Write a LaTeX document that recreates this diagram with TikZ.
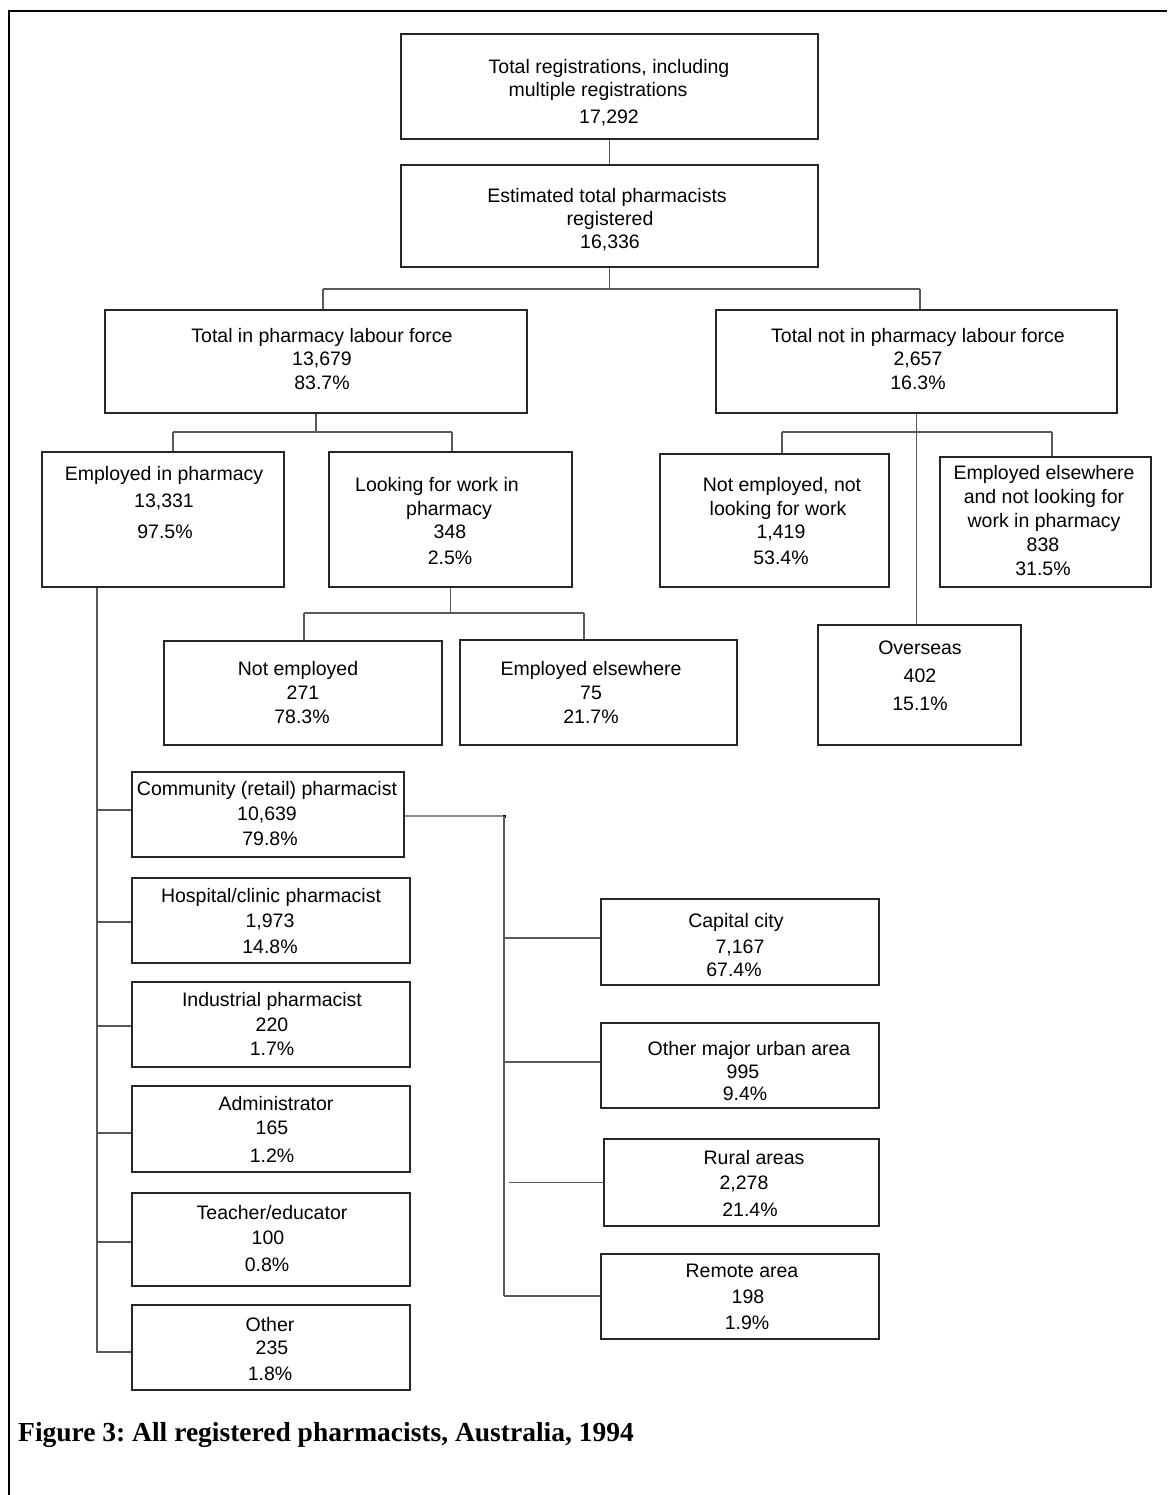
\documentclass[tikz,border=0pt]{standalone}
\usepackage{fontspec}
\setmainfont{Liberation Sans}
\newfontfamily\capfont{Liberation Serif}
\frenchspacing
\begin{document}
\begin{tikzpicture}[x=1pt,y=-1pt,
  bx/.style={draw=black!85,line width=1.4pt,inner sep=0pt,rectangle},
  txt/.style={inner sep=0pt,anchor=base,font=\fontsize{19.5}{23}\selectfont},
  cn/.style={draw=black!65,line width=1.1pt},
  capst/.style={inner sep=0pt,anchor=base west,font=\capfont\bfseries\fontsize{27.5}{32}\selectfont}]
\newcommand\bx[5]{\node[bx,minimum width={#4-#2},minimum height={#5-#3}] (#1) at ({(#2+#4)/2},{(#3+#5)/2}) {};}
\newcommand\tl[4]{\node[txt] (#1) at (#2,{#3+7}) {#4};}
\useasboundingbox (0,0) rectangle (1167,1495);
% frame
\draw[line width=2.6pt] (9,1495) -- (9,11) -- (1167,11);
% boxes
\bx{reg}{401}{34}{818}{139}
\bx{est}{401}{165}{818}{267}
\bx{tin}{105}{310}{527}{413}
\bx{tnot}{716}{310}{1117}{413}
\bx{emp}{42}{452}{284}{587}
\bx{look}{329}{452}{572}{587}
\bx{nenl}{660}{454}{889}{587}
\bx{eenl}{940}{457}{1151}{587}
\bx{noemp}{164}{641}{442}{745}
\bx{empel}{460}{640}{737}{745}
\bx{ovs}{818}{625}{1021}{745}
\bx{com}{132}{772}{404}{857}
\bx{hosp}{132}{878}{410}{963}
\bx{ind}{132}{982}{410}{1067}
\bx{adm}{132}{1086}{410}{1172}
\bx{tea}{132}{1193}{410}{1286}
\bx{oth}{132}{1305}{410}{1390}
\bx{capc}{601}{899}{879}{985}
\bx{omu}{601}{1023}{879}{1108}
\bx{rur}{604}{1139}{879}{1226}
\bx{rem}{601}{1254}{879}{1339}
% texts
\tl{reg1}{609}{67}{Total registrations, including}
\tl{reg2}{598}{90}{multiple registrations}
\tl{reg3}{609}{117}{17,292}
\tl{est1}{607}{196}{Estimated total pharmacists}
\tl{est2}{610}{219}{registered}
\tl{est3}{610}{242}{16,336}
\tl{tin1}{322}{335}{Total in pharmacy labour force}
\tl{tin2}{322}{358}{13,679}
\tl{tin3}{322}{382}{83.7\%}
\tl{tnot1}{918}{335}{Total not in pharmacy labour force}
\tl{tnot2}{918}{358}{2,657}
\tl{tnot3}{918}{382}{16.3\%}
\tl{emp1}{164}{473}{Employed in pharmacy}
\tl{emp2}{164}{500}{13,331}
\tl{emp3}{165}{531}{97.5\%}
\tl{look1}{437}{484}{Looking for work in}
\tl{look2}{449}{508}{pharmacy}
\tl{look3}{450}{531}{348}
\tl{look4}{450}{557}{2.5\%}
\tl{nenl1}{782}{484}{Not employed, not}
\tl{nenl2}{778}{508}{looking for work}
\tl{nenl3}{781}{531}{1,419}
\tl{nenl4}{781}{557}{53.4\%}
\tl{eenl1}{1044}{472}{Employed elsewhere}
\tl{eenl2}{1044}{496}{and not looking for}
\tl{eenl3}{1044}{520}{work in pharmacy}
\tl{eenl4}{1043}{544}{838}
\tl{eenl5}{1043}{568}{31.5\%}
\tl{ovs1}{920}{647}{Overseas}
\tl{ovs2}{920}{675}{402}
\tl{ovs3}{920}{703}{15.1\%}
\tl{noemp1}{298}{668}{Not employed}
\tl{noemp2}{303}{692}{271}
\tl{noemp3}{302}{716}{78.3\%}
\tl{empel1}{591}{668}{Employed elsewhere}
\tl{empel2}{591}{692}{75}
\tl{empel3}{591}{716}{21.7\%}
\tl{com1}{267}{788}{Community (retail) pharmacist}
\tl{com2}{267}{813}{10,639}
\tl{com3}{270}{838}{79.8\%}
\tl{hosp1}{271}{895}{Hospital/clinic pharmacist}
\tl{hosp2}{270}{920}{1,973}
\tl{hosp3}{270}{946}{14.8\%}
\tl{ind1}{272}{999}{Industrial pharmacist}
\tl{ind2}{272}{1024}{220}
\tl{ind3}{272}{1048}{1.7\%}
\tl{adm1}{276}{1103}{Administrator}
\tl{adm2}{272}{1127}{165}
\tl{adm3}{272}{1155}{1.2\%}
\tl{tea1}{272}{1212}{Teacher/educator}
\tl{tea2}{268}{1237}{100}
\tl{tea3}{267}{1264}{0.8\%}
\tl{oth1}{270}{1324}{Other}
\tl{oth2}{272}{1347}{235}
\tl{oth3}{270}{1373}{1.8\%}
\tl{capc1}{736}{920}{Capital city}
\tl{capc2}{740}{946}{7,167}
\tl{capc3}{734}{969}{67.4\%}
\tl{omu1}{749}{1048}{Other major urban area}
\tl{omu2}{743}{1071}{995}
\tl{omu3}{745}{1093}{9.4\%}
\tl{rur1}{754}{1157}{Rural areas}
\tl{rur2}{744}{1182}{2,278}
\tl{rur3}{750}{1209}{21.4\%}
\tl{rem1}{742}{1270}{Remote area}
\tl{rem2}{748}{1296}{198}
\tl{rem3}{747}{1322}{1.9\%}
% connectors
\draw[cn] (reg) -- (est);
\coordinate (h1a) at (323,289);
\coordinate (h1b) at (920,289);
\draw[cn] (est.south) -- (est.south |- h1a);
\draw[cn] (h1a) -- (h1b);
\draw[cn] (h1a) -- (h1a |- tin.north);
\draw[cn] (h1b) -- (h1b |- tnot.north);
\coordinate (h2a) at (173,432);
\coordinate (h2b) at (452,432);
\draw[cn] (tin.south) -- (tin.south |- h2a);
\draw[cn] (h2a) -- (h2b);
\draw[cn] (h2a) -- (h2a |- emp.north);
\draw[cn] (h2b) -- (h2b |- look.north);
\coordinate (h3a) at (782,432);
\coordinate (h3b) at (1052,432);
\draw[cn] (tnot.south) -- (tnot.south |- ovs.north);
\draw[cn] (h3a) -- (h3b);
\draw[cn] (h3a) -- (h3a |- nenl.north);
\draw[cn] (h3b) -- (h3b |- eenl.north);
\coordinate (h4a) at (304,613);
\coordinate (h4b) at (584,613);
\draw[cn] (look.south) -- (look.south |- h4a);
\draw[cn] (h4a) -- (h4b);
\draw[cn] (h4a) -- (h4a |- noemp.north);
\draw[cn] (h4b) -- (h4b |- empel.north);
% employed spine
\coordinate (s1) at (97,1352);
\draw[cn] (s1 |- emp.south) -- (s1) -- (s1 -| oth.west);
\draw[cn] ([yshift=4.5pt]com.west -| s1) -- ([yshift=4.5pt]com.west);
\draw[cn] ([yshift=-1.5pt]hosp.west -| s1) -- ([yshift=-1.5pt]hosp.west);
\draw[cn] ([yshift=-1.5pt]ind.west -| s1) -- ([yshift=-1.5pt]ind.west);
\draw[cn] ([yshift=-4pt]adm.west -| s1) -- ([yshift=-4pt]adm.west);
\draw[cn] ([yshift=-2.5pt]tea.west -| s1) -- ([yshift=-2.5pt]tea.west);
% community spine
\coordinate (c1) at (504,816);
\coordinate (c2) at (504,1296);
\draw[cn,draw=black!45] ([yshift=-1.5pt]com.east) -- (c1);
\fill[black] (503,814.5) rectangle (506,817.5);
\draw[cn] (c1) -- (c2);
\draw[cn] ([yshift=4pt]capc.west -| c1) -- ([yshift=4pt]capc.west);
\draw[cn] ([yshift=3.5pt]omu.west -| c1) -- ([yshift=3.5pt]omu.west);
\draw[cn] ([xshift=-94pt]rur.west) -- (rur.west);
\draw[cn] (c2) -- (c2 -| rem.west);
% caption
\node[capst] (caption) at (18,1441) {Figure 3: All registered pharmacists, Australia, 1994};
\end{tikzpicture}
\end{document}
